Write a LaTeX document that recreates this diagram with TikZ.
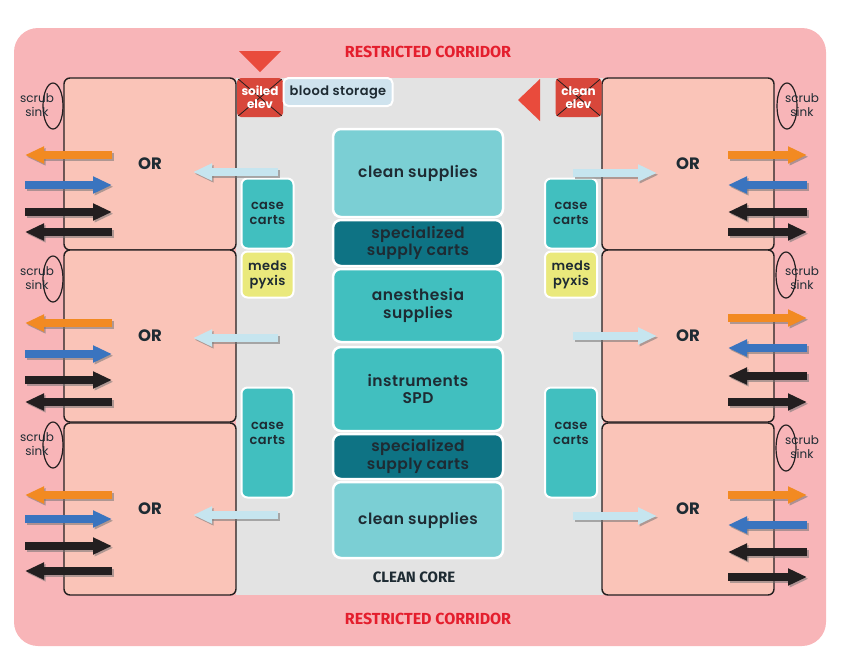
\documentclass[tikz,border=0pt]{standalone}
\usepackage{fontspec}
\setmainfont{Poppins}
\newfontfamily\semifont{Poppins SemiBold}[LetterSpace=3]
\newfontfamily\corrfont{Fira Sans}
\usepackage{tikz}
\usetikzlibrary{shapes, arrows.meta, positioning}

\definecolor{corridor}{HTML}{F8B5B8}
\definecolor{orpink}{HTML}{FAC4B8}
\definecolor{coregray}{HTML}{E3E3E3}
\definecolor{lightteal}{HTML}{7BCFD4}
\definecolor{midteal}{HTML}{41BFBF}
\definecolor{darkteal}{HTML}{0E7384}
\definecolor{pyxis}{HTML}{EAE97C}
\definecolor{bloodblue}{HTML}{CFE3EE}
\definecolor{elevred}{HTML}{D8473B}
\definecolor{trired}{HTML}{E94B3C}
\definecolor{corrred}{HTML}{E41E2D}
\definecolor{orangeflow}{HTML}{F28A22}
\definecolor{blueflow}{HTML}{3A74BF}
\definecolor{lightflow}{HTML}{C6E5EF}
\definecolor{blackflow}{HTML}{231F20}
\definecolor{textdark}{HTML}{1E2B33}

\tikzstyle{corrbox} = [fill=corridor, rounded corners=24pt, minimum width=812pt, minimum height=618pt, inner sep=0pt]
\tikzstyle{corebox} = [fill=coregray, minimum width=367pt, minimum height=517pt, inner sep=0pt]
\tikzstyle{orroom} = [draw=blackflow, line width=1.4pt, rounded corners=6pt, fill=orpink, minimum width=172pt, minimum height=172pt, inner sep=0pt, font=\fontsize{16.5}{16.5}\selectfont\bfseries, text=textdark]
\tikzstyle{sink} = [ellipse, draw=blackflow, line width=1.2pt, minimum width=20pt, minimum height=46pt, inner sep=0pt]
\tikzstyle{sinktext} = [align=center, font=\fontsize{12}{13.5}\selectfont, text=textdark, inner sep=0pt]
\tikzstyle{supply} = [draw=white, line width=2.5pt, rounded corners=8pt, minimum width=170pt, inner sep=0pt, align=center, font=\semifont\fontsize{15.5}{17.5}\selectfont, text=textdark]
\tikzstyle{cartbox} = [draw=white, line width=2pt, rounded corners=6pt, minimum width=52pt, inner sep=0pt, align=center, font=\semifont\fontsize{13}{15}\selectfont, text=textdark]
\tikzstyle{carttext} = [inner sep=0pt, align=center, font=\semifont\fontsize{13}{15}\selectfont, text=textdark]
\tikzstyle{elev} = [fill=elevred, rounded corners=4pt, minimum width=46pt, minimum height=39pt, inner sep=0pt, align=center, font=\fontsize{12}{13}\selectfont\bfseries, text=white,
  path picture={\draw[blackflow, line width=0.8pt] (path picture bounding box.north west) -- (path picture bounding box.south east) (path picture bounding box.north east) -- (path picture bounding box.south west);}]
\tikzstyle{corrtext} = [font=\corrfont\fontsize{16}{16}\selectfont\bfseries, text=corrred]
\tikzstyle{flow} = [line width=8pt, -{Triangle[length=19pt, width=16pt]}]
\tikzstyle{flowshadow} = [flow, draw=black!55, opacity=0.55, transform canvas={shift={(1.5pt,-1.8pt)}}]

\newcommand\flowarrow[3]{\draw[flowshadow] (#2) -- (#3); \draw[flow, draw=#1] (#2) -- (#3);}

\begin{document}
\begin{tikzpicture}[x=1pt, y=-1pt]
\useasboundingbox (0,0) rectangle (844,654);

% corridor and clean core
\node [corrbox] (corridor) at (420,337) {};
\node [corebox] (core) at (419.5,336.5) {};

\node [corrtext] (corrtop) at (428,52) {RESTRICTED CORRIDOR};
\node [corrtext] (corrbot) at (428,619) {RESTRICTED CORRIDOR};
\node [corrtext, text=textdark, font=\corrfont\fontsize{15}{15}\selectfont\bfseries] (corelabel) at (414,577) {CLEAN CORE};

% operating rooms
\node [orroom] (orL1) at (150,164) {OR};
\node [orroom] (orL2) at (150,336) {OR};
\node [orroom] (orL3) at (150,509) {OR};
\node [orroom] (orR1) at (688,164) {OR};
\node [orroom] (orR2) at (688,336) {OR};
\node [orroom] (orR3) at (688,509) {OR};

% scrub sinks
\node [sink] (sinkL1) at (53,106) {};
\node [sink] (sinkL2) at (53,279) {};
\node [sink] (sinkL3) at (53,445) {};
\node [sink] (sinkR1) at (787,106) {};
\node [sink] (sinkR2) at (786,275) {};
\node [sink] (sinkR3) at (786,448) {};
\node [sinktext] (sinkL1t) at (37,105) {scrub\\sink};
\node [sinktext] (sinkL2t) at (37,278) {scrub\\sink};
\node [sinktext] (sinkL3t) at (37,444) {scrub\\sink};
\node [sinktext] (sinkR1t) at (802,105) {scrub\\sink};
\node [sinktext] (sinkR2t) at (802,278) {scrub\\sink};
\node [sinktext] (sinkR3t) at (802,447) {scrub\\sink};

% clean core column
\node [supply, fill=lightteal, minimum height=88pt] (clean1) at (418,173) {clean supplies};
\node [supply, fill=darkteal, minimum height=46pt] (spec1) at (418,243) {specialized\\supply carts};
\node [supply, fill=midteal, minimum height=73pt] (anes) at (418,305.5) {anesthesia\\supplies};
\node [supply, fill=midteal, minimum height=84pt] (instr) at (418,389) {instruments\\SPD};
\node [supply, fill=darkteal, minimum height=45pt] (spec2) at (418,456.5) {specialized\\supply carts};
\node [supply, fill=lightteal, minimum height=76pt] (clean2) at (418,520) {clean supplies};

% carts and pyxis
\node [cartbox, fill=midteal, minimum height=70pt] (caseL1) at (267.5,213.5) {case\\carts};
\node [cartbox, fill=pyxis, minimum height=46pt] (pyxL) at (267.5,274.5) {meds\\pyxis};
\node [cartbox, fill=midteal, minimum height=110pt] (caseL2) at (267.5,442.5) {};
\node [carttext] (caseL2t) at (267.5,433) {case\\carts};
\node [cartbox, fill=midteal, minimum height=70pt] (caseR1) at (571,213.5) {case\\carts};
\node [cartbox, fill=pyxis, minimum height=46pt] (pyxR) at (571,274.5) {meds\\pyxis};
\node [cartbox, fill=midteal, minimum height=110pt] (caseR2) at (571,442.5) {};
\node [carttext] (caseR2t) at (571,433) {case\\carts};

% elevators and blood storage
\node [elev] (selev) at (260,97.5) {soiled\\elev};
\node [elev] (celev) at (578.5,97.5) {clean\\elev};
\node [cartbox, fill=bloodblue, minimum width=109pt, minimum height=28pt, rounded corners=5pt] (blood) at (338,92) {blood storage};
\fill [trired] (239,51) -- (281,51) -- (260,72) -- cycle;
\fill [trired] (540,79) -- (540,121) -- (518,100) -- cycle;

% flows, left rooms
\foreach \rw/\ya/\yb/\yc/\yd/\ye in {1/155/185/212/232/172, 2/323/354/380/402/338, 3/495/519/546/571/515}{
  \coordinate (Lin\rw a) at (112,\ya);  \coordinate (Lout\rw a) at (25,\ya);
  \coordinate (Lin\rw b) at (112,\yb);  \coordinate (Lout\rw b) at (25,\yb);
  \coordinate (Lin\rw c) at (112,\yc);  \coordinate (Lout\rw c) at (25,\yc);
  \coordinate (Lin\rw d) at (112,\yd);  \coordinate (Lout\rw d) at (25,\yd);
  \coordinate (Lcore\rw) at (278,\ye);  \coordinate (Lroom\rw) at (193,\ye);
  \flowarrow{orangeflow}{Lin\rw a}{Lout\rw a}
  \flowarrow{blueflow}{Lout\rw b}{Lin\rw b}
  \flowarrow{blackflow}{Lout\rw c}{Lin\rw c}
  \flowarrow{blackflow}{Lin\rw d}{Lout\rw d}
  \flowarrow{lightflow}{Lcore\rw}{Lroom\rw}
}

% flows, right rooms
\foreach \rw/\ya/\yb/\yc/\yd/\ye in {1/155/185/212/232/173, 2/318/348/376/402/336, 3/495/525/552/577/516}{
  \coordinate (Rin\rw a) at (728,\ya);  \coordinate (Rout\rw a) at (807,\ya);
  \coordinate (Rin\rw b) at (728,\yb);  \coordinate (Rout\rw b) at (807,\yb);
  \coordinate (Rin\rw c) at (728,\yc);  \coordinate (Rout\rw c) at (807,\yc);
  \coordinate (Rin\rw d) at (728,\yd);  \coordinate (Rout\rw d) at (807,\yd);
  \coordinate (Rcore\rw) at (573,\ye);  \coordinate (Rroom\rw) at (657,\ye);
  \flowarrow{orangeflow}{Rin\rw a}{Rout\rw a}
  \flowarrow{blueflow}{Rout\rw b}{Rin\rw b}
  \flowarrow{blackflow}{Rout\rw c}{Rin\rw c}
  \flowarrow{blackflow}{Rin\rw d}{Rout\rw d}
  \flowarrow{lightflow}{Rcore\rw}{Rroom\rw}
}
\end{tikzpicture}
\end{document}
